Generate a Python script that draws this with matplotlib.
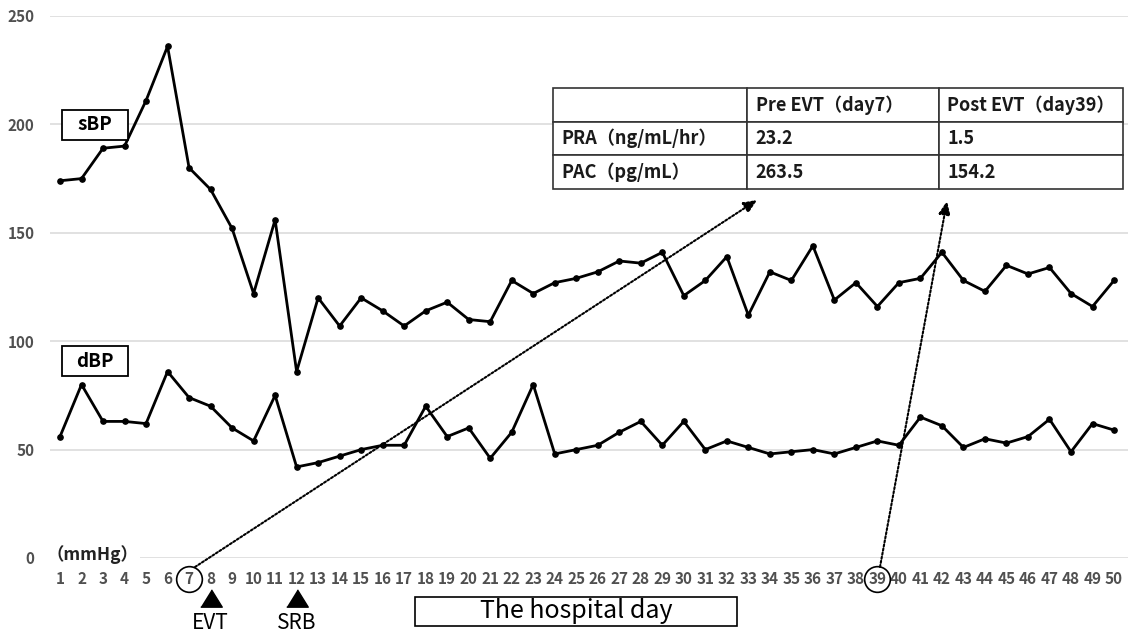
import matplotlib
matplotlib.use("Agg")
import matplotlib.pyplot as plt
from matplotlib.patches import Rectangle, FancyArrowPatch

plt.rcParams['font.family'] = ['Noto Sans CJK JP', 'DejaVu Sans']

# ---------------- data ----------------
days = list(range(1, 51))
sbp = [174, 175, 189, 190, 211, 236, 180, 170, 152, 122,
       156, 86, 120, 107, 120, 114, 107, 114, 118, 110,
       109, 128, 122, 127, 129, 132, 137, 136, 141, 121,
       128, 139, 112, 132, 128, 144, 119, 127, 116, 127,
       129, 141, 128, 123, 135, 131, 134, 122, 116, 128]
dbp = [56, 80, 63, 63, 62, 86, 74, 70, 60, 54,
       75, 42, 44, 47, 50, 52, 52, 70, 56, 60,
       46, 58, 80, 48, 50, 52, 58, 63, 52, 63,
       50, 54, 51, 48, 49, 50, 48, 51, 54, 52,
       65, 61, 51, 55, 53, 56, 64, 49, 62, 59]
y_ticks = [0, 50, 100, 150, 200, 250]
table_header = ["", "Pre EVT（day7）", "Post EVT（day39）"]
table_rows = [["PRA（ng/mL/hr）", "23.2", "1.5"],
              ["PAC（pg/mL）", "263.5", "154.2"]]
events = {"EVT": 8, "SRB": 12}
circled_days = [7, 39]

# ---------------- figure ----------------
W, H = 1131, 632
fig = plt.figure(figsize=(W / 100, H / 100), dpi=100)


def fx(x):
    return x / W


def fy(y):
    return 1 - y / H


ax_l, ax_r, ax_t, ax_b = 50, 1128, 16, 558
ax = fig.add_axes([fx(ax_l), fy(ax_b), (ax_r - ax_l) / W, (ax_b - ax_t) / H])
ax.set_xlim(0.535, 50.65)
ax.set_ylim(0, 250)
for s in ax.spines.values():
    s.set_visible(False)
ax.set_yticks(y_ticks)
ax.set_xticks(days)
ax.tick_params(length=0, labelsize=11, labelcolor='#505050')
ax.tick_params(axis='y', pad=11)
ax.tick_params(axis='x', pad=9)
for lab in ax.get_xticklabels() + ax.get_yticklabels():
    lab.set_fontweight('bold')
ax.grid(axis='y', color='#d9d9d9', lw=1.1)
ax.set_axisbelow(True)

line_kw = dict(color='black', lw=2.0, marker='o', ms=3.8, zorder=3)
ax.plot(days, sbp, **line_kw)
ax.plot(days, dbp, **line_kw)

# (mmHg) label covering start of the 0 line
fig.text(fx(47), fy(555), "（mmHg）", ha='left', va='center', fontsize=12.5,
         fontweight='bold', color='#222222',
         bbox=dict(facecolor='white', edgecolor='none', pad=1))

# sBP / dBP label boxes
for name, cy in [("sBP", 125), ("dBP", 361)]:
    fig.add_artist(Rectangle((fx(62), fy(cy + 15)), 66 / W, 30 / H,
                             transform=fig.transFigure, facecolor='white',
                             edgecolor='black', lw=1.3))
    fig.text(fx(95), fy(cy), name, ha='center', va='center', fontsize=13.5,
             fontweight='bold', color='black')

# table
tab = ax.table(cellText=table_rows, colLabels=table_header, cellLoc='left',
               colLoc='left', colWidths=[194, 192, 184],
               bbox=[(553 - ax_l) / (ax_r - ax_l), (ax_b - 189) / (ax_b - ax_t),
                     (1123 - 553) / (ax_r - ax_l), (189 - 88) / (ax_b - ax_t)])
tab.auto_set_font_size(False)
tab.set_fontsize(13)
for (r, c), cell in tab.get_celld().items():
    cell.set_edgecolor('#333333')
    cell.set_linewidth(1.2)
    cell.set_facecolor('white')
    cell.PAD = 0.045
    cell.get_text().set_fontweight('bold')
    cell.get_text().set_color('#1a1a1a')
tab.set_zorder(5)

# circles around ticks 7 and 39
for d in circled_days:
    ax.plot([d], [-(579 - ax_b) / 2.168], marker='o', ms=18.5, mfc='none',
            mec='black', mew=1.2, clip_on=False)

# dotted arrows
arrow_kw = dict(arrowstyle='-|>,head_length=0.8,head_width=0.35', color='black',
                lw=1.5, linestyle=(0, (1, 1)), shrinkA=0, shrinkB=0,
                mutation_scale=10)
fig.add_artist(FancyArrowPatch((fx(195), fy(567)), (fx(757), fy(200)),
                               transform=fig.transFigure, **arrow_kw))
fig.add_artist(FancyArrowPatch((fx(880), fy(567)), (fx(947), fy(201)),
                               transform=fig.transFigure, **arrow_kw))

# event triangles
tri = [(-1.24, -1), (1.24, -1), (0, 1)]
for name, d in events.items():
    ax.plot([d], [-(598 - ax_b) / 2.168], marker=tri, ms=15.5, color='black',
            clip_on=False)
    ax.text(d, -(623 - ax_b) / 2.168, name, ha='center', va='center',
            fontsize=15, color='black', clip_on=False)

# x-axis title box
fig.add_artist(Rectangle((fx(415), fy(626)), (737 - 415) / W, (626 - 597) / H,
                         transform=fig.transFigure, facecolor='white',
                         edgecolor='black', lw=1.2))
fig.text(fx(576), fy(611.5), "The hospital day", ha='center', va='center',
         fontsize=18, color='black')

fig.savefig("out.png", dpi=100)
